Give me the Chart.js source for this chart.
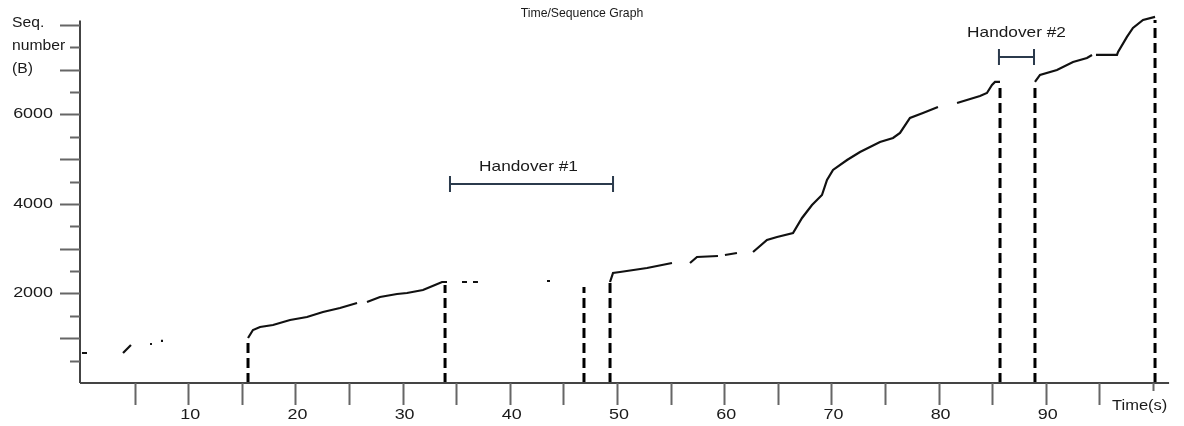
<!DOCTYPE html>
<html>
<head>
<meta charset="utf-8">
<script src="https://cdn.jsdelivr.net/npm/chart.js@4"></script>
<style>
  html, body { margin: 0; padding: 0; background: #fff; }
  #wrap { width: 1184px; height: 426px; position: relative; }
</style>
</head>
<body>
<div id="wrap"><canvas id="chart"></canvas></div>
<script>
// sequence trace (null = gap in the trace)
const seqTime = [0.09, 0.56, null, 3.92, 4.29, 4.66, null, 6.44, 6.62, null, 7.46, 7.65, null,
  15.58, 16.04, 16.70, 17.91, 19.50, 21.08, 22.57, 24.16, 25.75, null, 26.68, 27.89, 29.48, 30.41, 31.90, 33.02, 33.68, 34.14, null,
  35.54, 36.01, null, 36.57, 37.03, null, 43.47, 43.75, null,
  49.35, 49.63, 50.28, 52.80, 55.13, null, 56.81, 57.46, 59.42, null, 60.07, 61.19, null,
  62.69, 63.99, 64.93, 66.42, 67.26, 68.19, 69.12, 69.59, 70.15, 71.46, 72.67, 74.53, 75.75, 76.40, 77.33, 78.54, 79.94, null,
  81.72, 83.86, 84.51, 84.98, 85.26, 85.73, null,
  88.99, 89.46, 91.04, 92.54, 93.84, 94.31, null, 94.68, 96.64, 96.74, 97.57, 98.13, 99.07, 100.19];
const seqBytes = [670, 670, null, 670, 760, 849, null, 871, 871, null, 939, 939, null,
  1006, 1184, 1251, 1296, 1408, 1475, 1587, 1676, 1788, null, 1810, 1922, 1989, 2011, 2078, 2190, 2257, 2257, null,
  2257, 2257, null, 2257, 2257, null, 2279, 2279, null,
  2257, 2458, 2480, 2570, 2682, null, 2682, 2816, 2838, null, 2860, 2905, null,
  2927, 3196, 3263, 3352, 3687, 3978, 4201, 4536, 4760, 4983, 5162, 5385, 5475, 5587, 5922, 6034, 6168, null,
  6257, 6413, 6480, 6659, 6726, 6726, null,
  6726, 6883, 6994, 7173, 7263, 7330, null, 7330, 7330, 7397, 7732, 7933, 8112, 8179];

// dashed vertical drops
const dropTime = [15.58, 33.96, 46.92, 49.35, 85.73, 88.99, 100.19];
const dropTop = [1006, 2190, 2145, 2257, 6592, 6704, 8112];

// handover brackets
const handoverStart = [34.42, 85.63];
const handoverEnd = [49.63, 88.90];
const handoverLevel = [4447, 7285];
const handoverText = ['Handover #1', 'Handover #2'];
const handoverTextGap = [17, 24];

// axes
const xTickMarks = [5, 10, 15, 20, 25, 30, 35, 40, 45, 50, 55, 60, 65, 70, 75, 80, 85, 90, 95, 100];
const xTickLabels = [10, 20, 30, 40, 50, 60, 70, 80, 90];
const yTickMarks = [500, 1000, 1500, 2000, 2500, 3000, 3500, 4000, 4500, 5000, 5500, 6000, 6500, 7000, 7500, 8000];
const yTickLabels = [2000, 4000, 6000];
const yTitleLines = ['Seq.', 'number', '(B)'];
const xTitle = 'Time(s)';
const chartTitle = 'Time/Sequence Graph';

const FONT = '"Liberation Sans", Arial, sans-serif';

const tracePoints = seqTime.map((t, i) => ({ x: t === null ? seqTime[i - 1] : t, y: seqBytes[i] }));

const datasets = [{
    label: 'seq',
    data: tracePoints,
    borderColor: '#111',
    borderWidth: 2.2,
    pointRadius: 0,
    spanGaps: false,
    tension: 0
}];
dropTime.forEach((t, i) => {
    datasets.push({
        label: 'drop' + i,
        data: [{ x: t, y: 0 }, { x: t, y: dropTop[i] }],
        borderColor: '#000',
        borderWidth: 3,
        borderDash: [10, 5],
        pointRadius: 0
    });
});

// the source picture is stretched sideways, so the text is too
function wideText(ctx, text, px, py, sx, align) {
    ctx.save();
    ctx.translate(px, py);
    ctx.scale(sx, 1);
    ctx.textAlign = align;
    ctx.fillText(text, 0, 0);
    ctx.restore();
}

// axes, ticks, labels and brackets
const decorations = {
    id: 'decorations',
    afterDatasetsDraw(chart) {
        const { ctx, scales: { x, y } } = chart;
        const x0 = x.getPixelForValue(0);
        const y0 = y.getPixelForValue(0);
        ctx.save();

        // axis lines
        ctx.strokeStyle = '#444';
        ctx.lineWidth = 2;
        ctx.beginPath();
        ctx.moveTo(x0 - 1, y0);
        ctx.lineTo(x.getPixelForValue(101.5), y0);
        ctx.moveTo(x0 - 1, y0);
        ctx.lineTo(x0 - 1, y.getPixelForValue(8100));
        ctx.stroke();

        // ticks
        ctx.strokeStyle = '#666';
        ctx.beginPath();
        xTickMarks.forEach(v => {
            const px = Math.round(x.getPixelForValue(v)) + 0.5;
            ctx.moveTo(px, y0);
            ctx.lineTo(px, y0 + (v === 100 ? 8 : 22));
        });
        yTickMarks.forEach(v => {
            const py = Math.round(y.getPixelForValue(v)) + 0.5;
            ctx.moveTo(x0 - 1, py);
            ctx.lineTo(x0 - (v % 1000 === 0 ? 21 : 11), py);
        });
        ctx.stroke();

        // tick labels
        ctx.fillStyle = '#1a1a1a';
        ctx.font = '14px ' + FONT;
        ctx.textBaseline = 'middle';
        xTickLabels.forEach(v => wideText(ctx, String(v), x.getPixelForValue(v) + 2, y0 + 32, 1.28, 'center'));
        yTickLabels.forEach(v => wideText(ctx, String(v), x0 - 28, y.getPixelForValue(v), 1.28, 'right'));

        // axis titles
        yTitleLines.forEach((s, i) => wideText(ctx, s, 12, 23 + i * 23, 1.12, 'left'));
        wideText(ctx, xTitle, 1112, 406, 1.18, 'left');

        // chart title
        ctx.font = '13px ' + FONT;
        wideText(ctx, chartTitle, 582, 13, 0.94, 'center');

        // handover brackets
        ctx.strokeStyle = '#2b3a4c';
        ctx.lineWidth = 2;
        ctx.font = '15px ' + FONT;
        handoverStart.forEach((s, i) => {
            const a = x.getPixelForValue(s);
            const b = x.getPixelForValue(handoverEnd[i]);
            const py = y.getPixelForValue(handoverLevel[i]);
            ctx.beginPath();
            ctx.moveTo(a, py);
            ctx.lineTo(b, py);
            ctx.moveTo(a, py - 8);
            ctx.lineTo(a, py + 8);
            ctx.moveTo(b, py - 8);
            ctx.lineTo(b, py + 8);
            ctx.stroke();
            wideText(ctx, handoverText[i], (a + b) / 2 + (i === 0 ? -3 : 0), py - handoverTextGap[i], 1.15, 'center');
        });

        ctx.restore();
    }
};

const whiteBg = {
    id: 'whiteBg',
    beforeDraw(chart) {
        const { ctx } = chart;
        ctx.save();
        ctx.fillStyle = '#fff';
        ctx.fillRect(0, 0, chart.width, chart.height);
        ctx.restore();
    }
};

new Chart(document.getElementById('chart'), {
    type: 'line',
    data: { datasets },
    options: {
        responsive: true,
        maintainAspectRatio: false,
        animation: false,
        layout: { padding: { left: 81, right: 31, top: 16, bottom: 43 } },
        plugins: { legend: { display: false }, tooltip: { enabled: false } },
        scales: {
            x: { type: 'linear', min: 0, max: 100, display: false },
            y: { type: 'linear', min: 0, max: 8200, display: false }
        },
        clip: false
    },
    plugins: [whiteBg, decorations]
});
</script>
</body>
</html>
